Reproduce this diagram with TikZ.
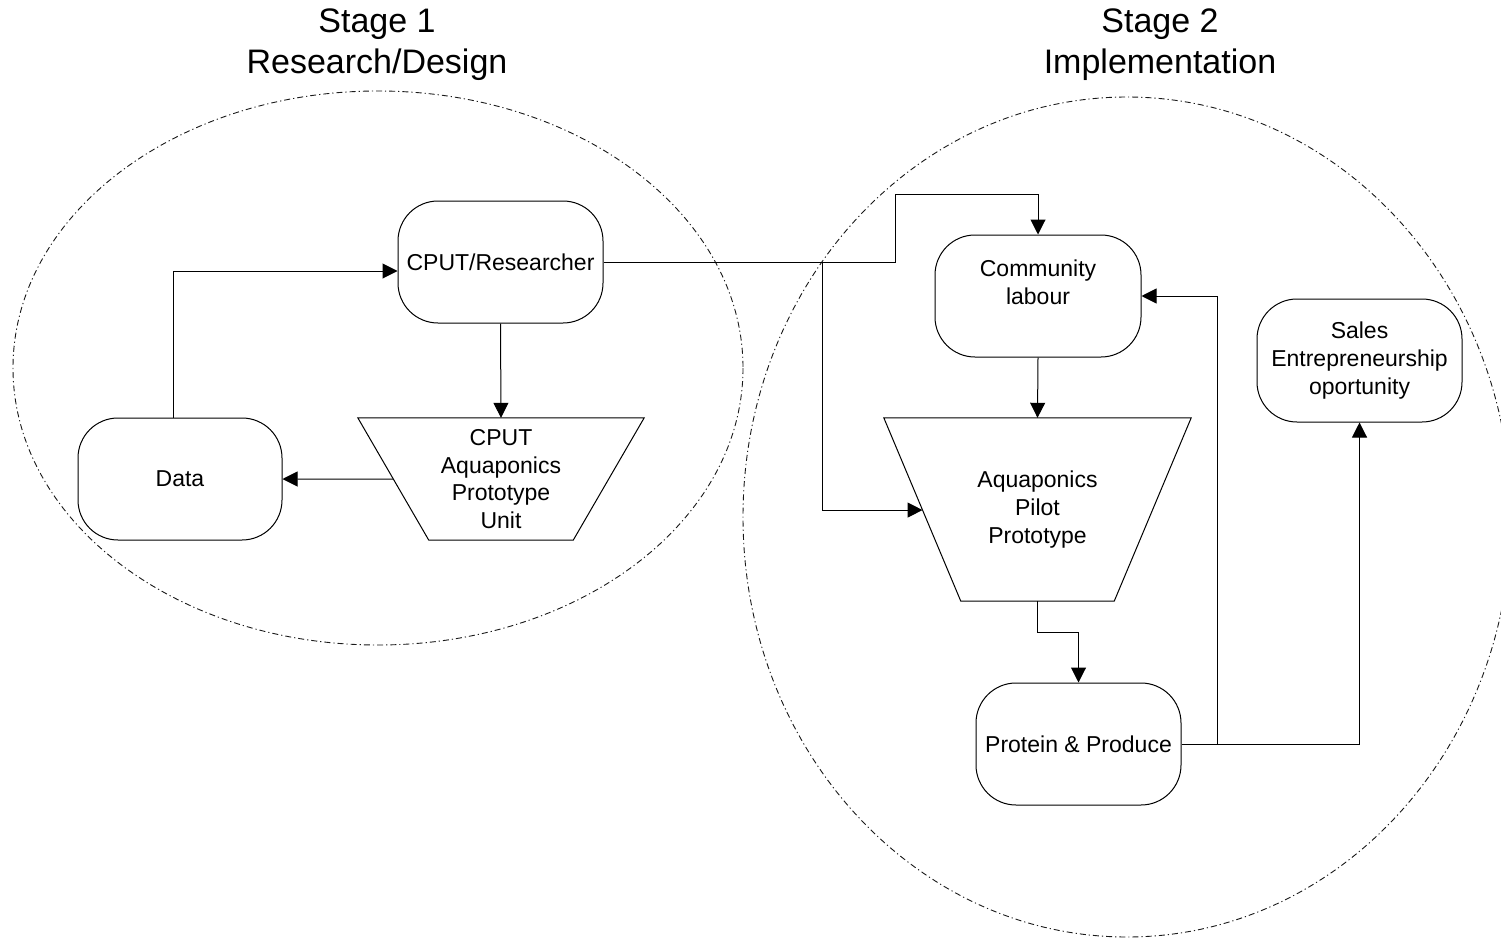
\documentclass[tikz,border=0pt]{standalone}
\usepackage{fontspec}
\setmainfont{Liberation Sans}
\usetikzlibrary{arrows.meta,calc}
\begin{document}
\begin{tikzpicture}[x=1pt,y=-1pt,
  every node/.style={font=\fontsize{23}{27.6}\selectfont, align=center},
  roundbox/.style={draw, line width=1pt, rounded corners=40pt, minimum width=205pt, minimum height=122pt, inner sep=0pt},
  trapbox/.style={minimum height=122pt, inner sep=0pt},
  titletext/.style={font=\fontsize{34}{40.8}\selectfont},
  stageline/.style={line width=0.9pt, black!90, dash pattern=on 6pt off 3pt on 1.2pt off 3pt},
  arr/.style={line width=1pt, -{Triangle[length=15pt,width=15pt]}}
]
\useasboundingbox (0,0) rectangle (1501,939);
\fill[white] (0,0) rectangle (1501,939);
\begin{scope}
\clip (0,0) rectangle (1501,939);
\draw[stageline] (378,368) ellipse [x radius=365, y radius=277];
\draw[stageline] (1127,517) ellipse [x radius=384, y radius=420];
\end{scope}

% titles
\node[titletext] (t1) at (377,45) {Stage 1\\Research/Design};
\node[titletext] (t2) at (1160,45) {Stage 2\\Implementation};

% nodes
\node[roundbox] (res) at (500.5,262) {CPUT/Researcher};
\node[roundbox, minimum width=204pt] (data) at (180,479) {Data};
\node[trapbox, minimum width=286pt] (cput) at (501,479) {CPUT\\Aquaponics\\Prototype\\Unit};
\draw[line width=1pt] (cput.north west) -- (cput.north east) -- ([xshift=-71pt]cput.south east) -- ([xshift=71pt]cput.south west) -- cycle;
\coordinate (cputl) at ($(cput.north west)!0.5!([xshift=71pt]cput.south west)$);

\node[roundbox, minimum width=206pt] (comm) at (1038,296) {};
\node (commtext) at (1038,282) {Community\\labour};
\node[trapbox, minimum width=307pt, minimum height=183pt] (pilot) at (1037.5,509.5) {Aquaponics\\Pilot\\Prototype};
\draw[line width=1pt] (pilot.north west) -- (pilot.north east) -- ([xshift=-77pt]pilot.south east) -- ([xshift=77pt]pilot.south west) -- cycle;
\coordinate (pilotl) at ($(pilot.north west)!0.503!([xshift=77pt]pilot.south west)$);
\node[roundbox] (prot) at (1078.5,744) {Protein \& Produce};
\node[roundbox, minimum height=123pt] (sales) at (1359.5,360.5) {Sales\\Entrepreneurship\\oportunity};

% connectors
\draw[arr] ([xshift=-7pt]data.north) |- ([yshift=-9pt]res.west);
\draw[arr] (res.south) -- (cput.north);
\draw[arr] (cputl) -- (data.east);
\coordinate (j1) at (822,262);
\draw[arr] (res.east) -- ++(292,0) |- ([yshift=40pt]comm.north) -- (comm.north);
\draw[arr] (j1) |- (pilotl);
\draw[arr] (comm.south) -- (pilot.north);
\draw[arr] (pilot.south) -- ++(0,31) -| (prot.north);
\draw[arr] (prot.east) -| (sales.south);
\coordinate (j2) at (1217,744);
\draw[arr] (j2) |- (comm.east);
\end{tikzpicture}
\end{document}
